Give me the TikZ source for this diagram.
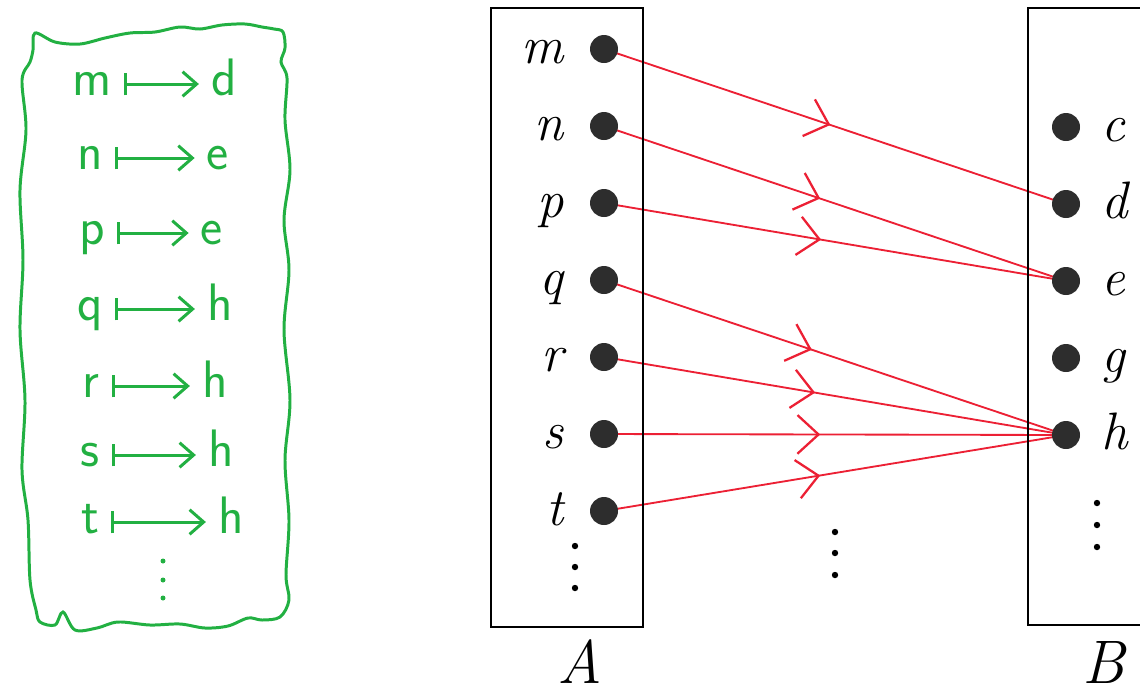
\documentclass[tikz,border=0pt]{standalone}
\usepackage{fontspec}
\usetikzlibrary{arrows.meta,decorations.markings,backgrounds}
\definecolor{penGreen}{RGB}{34,176,66}
\definecolor{penRed}{RGB}{236,32,52}
\definecolor{dotGray}{RGB}{45,45,45}
\begin{document}
\begin{tikzpicture}[x=0.02cm,y=-0.02cm,
  dotnode/.style={circle,fill=dotGray,minimum size=0.56cm,inner sep=0pt},
  setlabel/.style={inner sep=0pt,font=\itshape\fontsize{30}{36}\selectfont},
  biglabel/.style={inner sep=0pt,font=\itshape\fontsize{35}{42}\selectfont},
  setbox/.style={draw=black,line width=1pt},
  mapline/.style={draw=penRed,color=penRed,line width=1.05pt,postaction={decorate},
    decoration={markings,mark=at position #1 with {\arrow{Straight Barb[length=12pt,width=22pt,line width=1.3pt]}}}},
  mapline/.default=0.47,
  gtext/.style={text=penGreen,font=\sffamily\fontsize{30}{34}\selectfont,inner xsep=0.24cm,inner ysep=0pt,text height=13pt,text depth=0pt},
  gmap/.style={draw=penGreen,line width=1.7pt,
    arrows={Bar[width=13pt,line width=1.7pt]-Straight Barb[length=8pt,width=14pt,line width=1.7pt]}},
  gborder/.style={draw=penGreen,line width=1.7pt},
  vdot/.style={fill=black}
]
\useasboundingbox (0,0) rectangle (1140,698);
\clip (0,0) rectangle (1140,698);

% ---------- handwritten green box ----------
\draw[gborder] plot[smooth cycle,tension=0.55] coordinates {
  (35,33) (55,42) (80,44) (105,38) (130,33) (155,32) (180,27) (200,29) (222,25) (245,24) (262,27) (274,29)
  (283,32) (285,48) (281,62) (287,78) (285,120) (290,170) (284,220) (289,270) (284,330) (290,400) (285,460) (289,520) (286,575) (289,600)
  (280,617) (262,620) (248,618) (228,626) (205,628) (180,624) (150,625) (118,622) (97,628) (75,630) (63,612) (55,625) (40,622) (36,610)
  (30,580) (28,520) (22,470) (25,400) (20,330) (23,260) (20,190) (26,130) (22,80) (30,62) (33,50)};

\foreach \l/\r/\xl/\xr/\y [count=\i] in {m/d/92/224/84, n/e/90/218/158, p/e/92/212/233, q/h/90/220/309, r/h/91/215/386, s/h/90/221/455, t/h/90/231/522} {
  \node[gtext] (gl\i) at (\xl,\y) {\l};
  \node[gtext] (gr\i) at (\xr,\y) {\r};
  \draw[gmap] (gl\i) -- (gr\i);
}
\fill[penGreen] (163,561) circle (2.5) (163,580) circle (2.5) (163,598) circle (2.5);

% ---------- sets ----------
\draw[setbox] (491,8) rectangle (643,627);
\draw[setbox] (1028,8) rectangle (1180,625);

\foreach \n/\k in {m/0,n/1,p/2,q/3,r/4,s/5,t/6} {
  \node[dotnode] (a\n) at (604,{49+77*\k}) {};
  \node[setlabel,anchor=base east] (la\n) at (564,{63+77*\k}) {\n};
}
\foreach \n/\k in {c/0,d/1,e/2,g/3,h/4} {
  \node[dotnode] (b\n) at (1066,{127+77*\k}) {};
  \node[setlabel,anchor=base west] (lb\n) at (1101,{141+77*\k}) {\n};
}

\fill[vdot] (575,546) circle (3.2) (575,567) circle (3.2) (575,588) circle (3.2);
\fill[vdot] (835,532) circle (3.2) (835,553) circle (3.2) (835,575) circle (3.2);
\fill[vdot] (1097,503) circle (3.2) (1097,525) circle (3.2) (1097,547) circle (3.2);

\node[biglabel,anchor=base] (setA) at (580,683) {A};
\node[biglabel,anchor=base] (setB) at (1104,683) {B};

\begin{scope}[on background layer]
  \draw[mapline=0.49] (am.center) -- (bd.center);
  \draw[mapline=0.468] (an.center) -- (be.center);
  \draw[mapline=0.47] (ap.center) -- (be.center);
  \draw[mapline=0.45] (aq.center) -- (bh.center);
  \draw[mapline=0.457] (ar.center) -- (bh.center);
  \draw[mapline=0.468] (as.center) -- (bh.center);
  \draw[mapline=0.468] (at.center) -- (bh.center);
\end{scope}
\end{tikzpicture}
\end{document}
